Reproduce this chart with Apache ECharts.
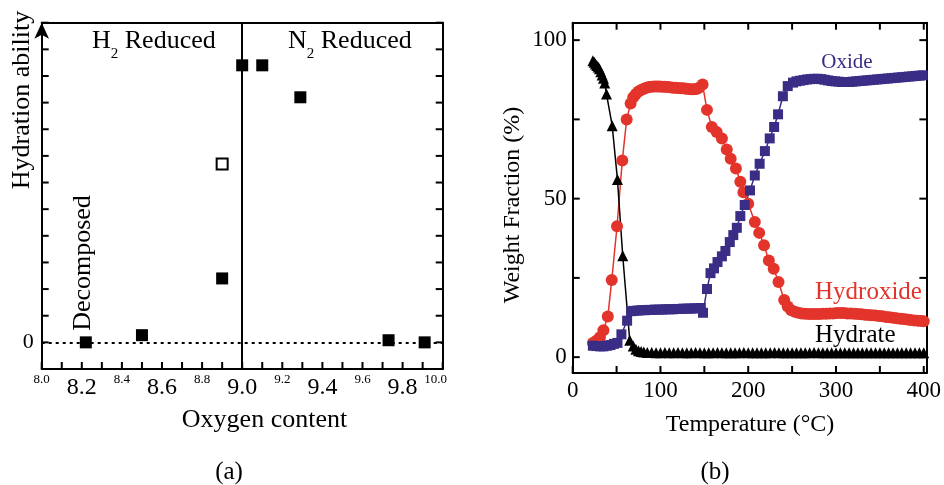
<!DOCTYPE html>
<html>
<head>
<meta charset="utf-8">
<script src="https://cdn.jsdelivr.net/npm/echarts@6/dist/echarts.min.js"></script>
<style>
  html, body { margin: 0; padding: 0; background: #fff; }
  #chart { width: 944px; height: 485px; }
</style>
</head>
<body>
<div id="chart"></div>
<script>
// ---- Panel (a): hydration ability against oxygen content ----
const oxygenFilled    = [8.22, 8.50, 8.90, 9.00, 9.10, 9.29, 9.73, 9.91];
const hydrationFilled = [0, 0.27, 2.4, 10.4, 10.4, 9.2, 0.08, 0];
const oxygenOpen      = [8.90];
const hydrationOpen   = [6.7];
const phaseBoundary   = 9.0;   // H2-reduced | N2-reduced divide
const zeroLevel       = 0;

// ---- Panel (b): weight fractions during heating, [temperature °C, weight %] ----
const hydrate = [
  [23,93.5],[24.5,93],[26,92.5],[27.5,92],[29,91.5],[30.5,91],[32,90],[33.5,89],[35,88],[36.5,86.5],
  [38.5,83],[45,73],[51,56],[57,32],[65,5.3],[69,3.5],[72,2.5],[75,2],[78,1.8],[81,1.6],
  [85,1.5],[90,1.5],[95,1.4],[100,1.4],[105,1.5],[110,1.4],[115,1.4],[120,1.5],[125,1.4],[130,1.4],
  [135,1.4],[140,1.5],[145,1.4],[150,1.4],[155,1.4],[160,1.4],[165,1.5],[170,1.4],[175,1.4],[180,1.4],
  [185,1.4],[190,1.4],[195,1.5],[200,1.4],[205,1.4],[210,1.4],[215,1.4],[220,1.4],[225,1.4],[230,1.5],
  [235,1.4],[240,1.4],[245,1.4],[250,1.4],[255,1.4],[260,1.4],[265,1.4],[270,1.4],[275,1.5],[280,1.4],
  [285,1.4],[290,1.4],[295,1.4],[300,1.4],[305,1.4],[310,1.4],[315,1.4],[320,1.4],[325,1.4],[330,1.4],
  [335,1.4],[340,1.4],[345,1.4],[350,1.4],[355,1.4],[360,1.4],[365,1.4],[370,1.4],[375,1.4],[380,1.4],
  [385,1.4],[390,1.4],[395,1.4],[400,1.4]
];

const hydroxide = [
  [23,4.5],[27,5.2],[31,6.3],[35,8.5],[40,12.8],[44.5,24.3],[50.5,41.3],[56.5,62],[61.5,75],[66,80],
  [69,82],[72,83],[75,83.8],[78,84.3],[81,84.7],[84,85],[87,85.2],[90,85.3],[93,85.4],[96,85.4],
  [99,85.4],[102,85.3],[105,85.3],[108,85.2],[111,85.1],[114,85],[117,85],[120,84.9],[123,84.8],[126,84.8],
  [129,84.7],[132,84.6],[135,84.5],[138,84.5],[141,84.6],[144,85],[148,86],[153,78],[158.5,72.6],[164,71],
  [170,69],[175.5,65.5],[180,62.6],[186,59.5],[191,55.3],[194.5,52],[200,48.4],[207.5,42.6],[212.5,39.2],[218,35.3],
  [223.5,30.5],[229,27.9],[234.5,23.7],[241,18],[245,16],[249,14.8],[253,14.3],[257,14],[261,13.8],[265,13.7],
  [269,13.6],[273,13.6],[277,13.6],[281,13.6],[285,13.7],[289,13.7],[293,13.8],[297,13.8],[301,13.9],[305,13.9],
  [309,13.9],[313,13.8],[317,13.8],[321,13.7],[325,13.6],[329,13.5],[333,13.4],[337,13.3],[341,13.2],[345,13.1],
  [349,13.0],[353,12.9],[357,12.7],[361,12.6],[365,12.4],[369,12.3],[373,12.1],[377,12.0],[381,11.9],[385,11.7],
  [389,11.6],[393,11.5],[397,11.4],[400,11.3]
];

const oxide = [
  [23,3.6],[27,3.5],[31,3.4],[35,3.4],[39,3.6],[43,3.8],[47,4.2],[51,4.5],[55.5,7.2],[62,11.5],
  [66.5,14.5],[70,14.6],[74,14.7],[78,14.8],[82,14.8],[86,14.9],[90,14.9],[94,15],[98,15],[102,15],
  [106,15.1],[110,15.1],[114,15.1],[118,15.2],[122,15.2],[126,15.3],[130,15.3],[134,15.3],[138,15.4],[142,15.4],
  [146,15.5],[148.5,14],[153,21.5],[157,26.5],[161,28],[165,30],[170,31.8],[174,33.5],[179,36.3],[183,38.5],
  [187,40.8],[191,44.5],[196,48],[202,52.6],[207.5,57.3],[213,61],[219,65],[224.5,69],[229.5,72.6],[234,76.6],
  [239.5,82.3],[245,85.5],[251,86.6],[255,87],[259,87.2],[263,87.4],[267,87.6],[271,87.7],[275,87.8],[279,87.8],
  [283,87.7],[287,87.5],[291,87.3],[295,87.1],[299,87.0],[303,86.9],[307,86.8],[311,86.8],[315,86.8],[319,86.9],
  [323,87.0],[327,87.1],[331,87.2],[335,87.3],[339,87.4],[343,87.5],[347,87.6],[351,87.7],[355,87.8],[359,87.9],
  [363,88.0],[367,88.1],[371,88.2],[375,88.3],[379,88.4],[383,88.5],[387,88.6],[391,88.7],[395,88.8],[399,88.9]
];

// tick positions and labels
const oxygenTicks  = [8.0,8.1,8.2,8.3,8.4,8.5,8.6,8.7,8.8,8.9,9.0,9.1,9.2,9.3,9.4,9.5,9.6,9.7,9.8,9.9,10.0];
const hydrationTicks = [-1,0,1,2,3,4,5,6,7,8,9,10,11,12];
const tempTicks    = [0, 50, 100, 150, 200, 250, 300, 350, 400];
const tempLabels   = [0, 100, 200, 300, 400];
const weightTicks  = [0, 25, 50, 75, 100];
const weightLabels = [0, 50, 100];

const SERIF = '"Liberation Serif", "Times New Roman", serif';
const RED = '#e3342c';
const NAVY = '#3a2d86';
const TICK_LEN = 7;

function frameLine() {
  return { show: true, onZero: false, lineStyle: { color: '#000', width: 2 } };
}
function zip(xs, ys) { return xs.map((x, i) => [x, ys[i]]); }

const chart = echarts.init(document.getElementById('chart'));

chart.setOption({
  animation: false,
  grid: [
    { left: 41.7, top: 22.7, width: 401, height: 346.3 },
    { left: 572.7, top: 22.7, width: 357.3, height: 350.3 }
  ],
  xAxis: [
    {
      gridIndex: 0, type: 'value', min: 8, max: 10, interval: 0.1, position: 'bottom',
      axisLine: frameLine(), axisTick: { show: false }, splitLine: { show: false },
      axisLabel: {
        margin: 4, fontFamily: SERIF,
        formatter: function (v) {
          const k = Math.round((v - 8) * 10);
          const txt = v.toFixed(1);
          if (k === 20) return '{e|' + txt + '}';
          if (k % 4 === 0) return '{s|' + txt + '}';
          if (k % 4 === 2) return '{b|' + txt + '}';
          return '';
        },
        rich: {
          s: { fontSize: 13, fontFamily: SERIF, color: '#000' },
          e: { fontSize: 13, fontFamily: SERIF, color: '#000', padding: [0, 14, 0, 0] },
          b: { fontSize: 24, fontFamily: SERIF, color: '#000', padding: [3, 0, 0, 0] }
        }
      }
    },
    {
      gridIndex: 0, type: 'value', min: 8, max: 10, position: 'top',
      axisLine: frameLine(), axisTick: { show: false }, axisLabel: { show: false }, splitLine: { show: false }
    },
    {
      gridIndex: 1, type: 'value', min: 0, max: 403, interval: 50, position: 'bottom',
      axisLine: frameLine(), axisTick: { show: false }, splitLine: { show: false },
      axisLabel: { customValues: tempLabels, margin: 6, color: '#000', fontFamily: SERIF, fontSize: 23 }
    },
    {
      gridIndex: 1, type: 'value', min: 0, max: 403, interval: 50, position: 'top',
      axisLine: frameLine(), axisTick: { show: false }, axisLabel: { show: false }, splitLine: { show: false }
    }
  ],
  yAxis: [
    {
      gridIndex: 0, type: 'value', min: -1, max: 12, interval: 1, position: 'left',
      axisLine: { show: true, onZero: false, symbol: ['none', 'arrow'], symbolSize: [11, 16], symbolOffset: [0, 0],
                  lineStyle: { color: '#000', width: 2 } },
      axisTick: { show: false }, splitLine: { show: false },
      axisLabel: { margin: 8, color: '#000', fontFamily: SERIF, fontSize: 22,
                   formatter: v => (v === zeroLevel ? String(zeroLevel) : '') }
    },
    {
      gridIndex: 0, type: 'value', min: -1, max: 12, interval: 1, position: 'right',
      axisLine: frameLine(), axisTick: { show: false }, axisLabel: { show: false }, splitLine: { show: false }
    },
    {
      gridIndex: 1, type: 'value', min: -5, max: 105.5, position: 'left',
      axisLine: frameLine(), axisTick: { show: false }, splitLine: { show: false },
      axisLabel: { customValues: weightLabels, margin: 6, color: '#000', fontFamily: SERIF, fontSize: 23 }
    },
    {
      gridIndex: 1, type: 'value', min: -5, max: 105.5, position: 'right',
      axisLine: frameLine(), axisTick: { show: false }, axisLabel: { show: false }, splitLine: { show: false }
    }
  ],
  series: [
    {
      type: 'scatter', xAxisIndex: 0, yAxisIndex: 0, silent: true,
      data: [],
      markLine: {
        silent: true, symbol: 'none', label: { show: false },
        data: [
          { xAxis: phaseBoundary, lineStyle: { color: '#000', width: 2, type: 'solid' } },
          { yAxis: zeroLevel, lineStyle: { color: '#000', width: 2, type: [3, 4] } }
        ]
      }
    },
    {
      type: 'scatter', xAxisIndex: 0, yAxisIndex: 0, symbol: 'rect', symbolSize: 12,
      itemStyle: { color: '#000', opacity: 1 },
      data: zip(oxygenFilled, hydrationFilled)
    },
    {
      type: 'scatter', xAxisIndex: 0, yAxisIndex: 0, symbol: 'rect', symbolSize: 11,
      itemStyle: { color: '#fff', borderColor: '#000', borderWidth: 2, opacity: 1 },
      data: zip(oxygenOpen, hydrationOpen)
    },
    {
      name: 'Hydroxide', type: 'line', xAxisIndex: 2, yAxisIndex: 2,
      symbol: 'circle', symbolSize: 12, showAllSymbol: true,
      lineStyle: { color: RED, width: 1.5 }, itemStyle: { color: RED },
      data: hydroxide
    },
    {
      name: 'Oxide', type: 'line', xAxisIndex: 2, yAxisIndex: 2,
      symbol: 'rect', symbolSize: 10, showAllSymbol: true,
      lineStyle: { color: NAVY, width: 1.5 }, itemStyle: { color: NAVY },
      data: oxide
    },
    {
      name: 'Hydrate', type: 'line', xAxisIndex: 2, yAxisIndex: 2,
      symbol: 'triangle', symbolSize: 11, showAllSymbol: true,
      lineStyle: { color: '#000', width: 1.5 }, itemStyle: { color: '#000' },
      data: hydrate
    }
  ]
});

// Text annotations and axis titles
const texts = [
  { type: 'text', x: 22, y: 100, rotation: Math.PI / 2,
    style: { text: 'Hydration ability', font: '26px ' + SERIF, fill: '#000', align: 'center', verticalAlign: 'middle' } },
  { type: 'text', x: 83, y: 263, rotation: Math.PI / 2,
    style: { text: 'Decomposed', font: '26px ' + SERIF, fill: '#000', align: 'center', verticalAlign: 'middle' } },
  { type: 'text', x: 92, y: 28,
    style: { text: '{m|H}{sub|2}{m| Reduced}', fill: '#000', align: 'left', verticalAlign: 'top',
             rich: { m: { fontSize: 26, fontFamily: SERIF, lineHeight: 30, verticalAlign: 'top' },
                     sub: { fontSize: 15, fontFamily: SERIF, lineHeight: 15, padding: [19, 0, 0, 0], verticalAlign: 'top' } } } },
  { type: 'text', x: 288, y: 28,
    style: { text: '{m|N}{sub|2}{m| Reduced}', fill: '#000', align: 'left', verticalAlign: 'top',
             rich: { m: { fontSize: 26, fontFamily: SERIF, lineHeight: 30, verticalAlign: 'top' },
                     sub: { fontSize: 15, fontFamily: SERIF, lineHeight: 15, padding: [19, 0, 0, 0], verticalAlign: 'top' } } } },
  { type: 'text', x: 264.5, y: 420,
    style: { text: 'Oxygen content', font: '26px ' + SERIF, fill: '#000', align: 'center', verticalAlign: 'middle' } },
  { type: 'text', x: 229, y: 472,
    style: { text: '(a)', font: '25px ' + SERIF, fill: '#000', align: 'center', verticalAlign: 'middle' } },
  { type: 'text', x: 513, y: 205, rotation: Math.PI / 2,
    style: { text: 'Weight Fraction (%)', font: '24px ' + SERIF, fill: '#000', align: 'center', verticalAlign: 'middle' } },
  { type: 'text', x: 750, y: 425,
    style: { text: 'Temperature (°C)', font: '24px ' + SERIF, fill: '#000', align: 'center', verticalAlign: 'middle' } },
  { type: 'text', x: 715, y: 472,
    style: { text: '(b)', font: '25px ' + SERIF, fill: '#000', align: 'center', verticalAlign: 'middle' } },
  { type: 'text', x: 847, y: 62,
    style: { text: 'Oxide', font: '21px ' + SERIF, fill: NAVY, align: 'center', verticalAlign: 'middle' } },
  { type: 'text', x: 815, y: 292,
    style: { text: 'Hydroxide', font: '25px ' + SERIF, fill: RED, align: 'left', verticalAlign: 'middle' } },
  { type: 'text', x: 815, y: 335,
    style: { text: 'Hydrate', font: '25px ' + SERIF, fill: '#000', align: 'left', verticalAlign: 'middle' } }
];

// Inward tick marks, placed through each axis's own scale
function tickSegment(x1, y1, x2, y2) {
  return { type: 'line', silent: true, z: 50,
           shape: { x1: x1, y1: y1, x2: x2, y2: y2 },
           style: { stroke: '#000', lineWidth: 2 } };
}
function xTicks(xAxisIndex, yAxisIndex, values, yEdge, dir) {
  const y = chart.convertToPixel({ yAxisIndex: yAxisIndex }, yEdge);
  return values.map(v => {
    const x = chart.convertToPixel({ xAxisIndex: xAxisIndex }, v);
    return tickSegment(x, y, x, y + dir * TICK_LEN);
  });
}
function yTicks(yAxisIndex, xAxisIndex, values, xEdge, dir) {
  const x = chart.convertToPixel({ xAxisIndex: xAxisIndex }, xEdge);
  return values.map(v => {
    const y = chart.convertToPixel({ yAxisIndex: yAxisIndex }, v);
    return tickSegment(x, y, x + dir * TICK_LEN, y);
  });
}

const ticks = [].concat(
  xTicks(0, 0, oxygenTicks, -1, -1),          // (a) bottom, pointing up
  yTicks(0, 0, hydrationTicks, 8, 1),          // (a) left, pointing right
  yTicks(1, 0, hydrationTicks, 10, -1),        // (a) right, pointing left
  xTicks(2, 2, tempTicks, -5, -1),             // (b) bottom
  xTicks(3, 2, tempTicks, 105.5, 1),           // (b) top, pointing down
  yTicks(2, 2, weightTicks, 0, 1),             // (b) left
  yTicks(3, 2, weightTicks, 403, -1)           // (b) right
);

chart.setOption({ graphic: texts.concat(ticks) });
</script>
</body>
</html>
